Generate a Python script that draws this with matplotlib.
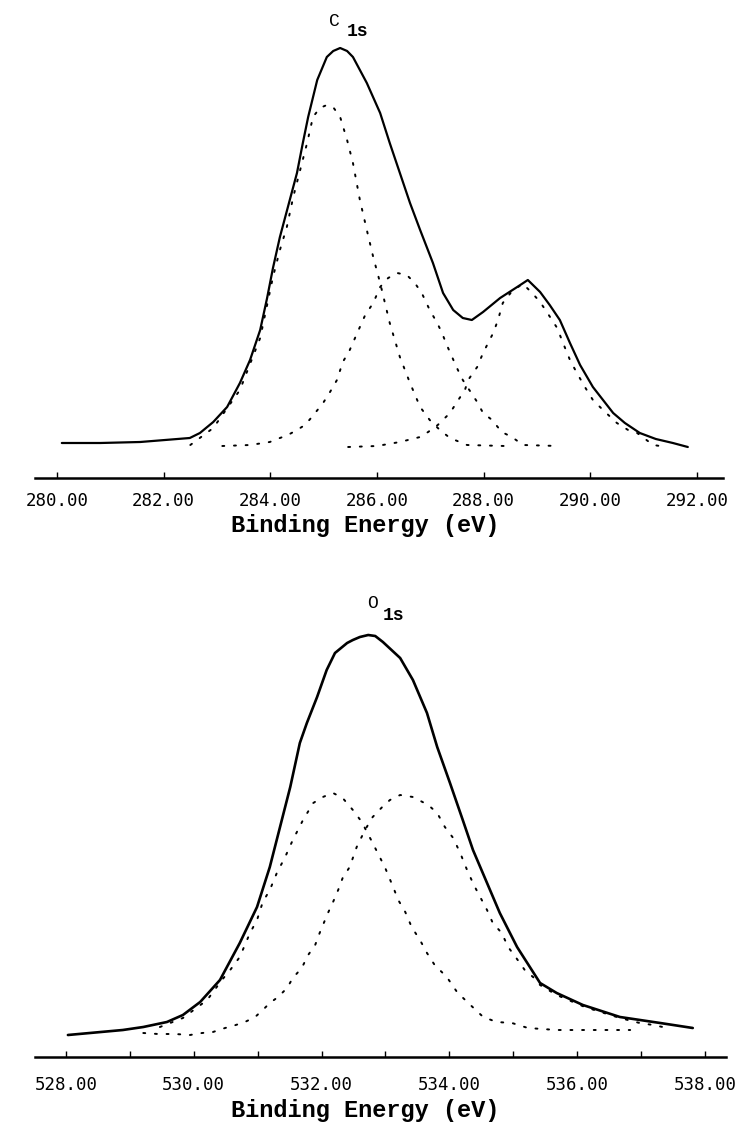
import numpy as np
import matplotlib
matplotlib.use("Agg")
import matplotlib.pyplot as plt

# ---- C1s spectrum (binding energy eV, intensity arb. units) ----
c_env_e = [280.09, 280.81, 281.56, 282.49, 282.68, 282.93, 283.19, 283.43, 283.62, 283.81,
           283.94, 284.05, 284.18, 284.33, 284.50, 284.61, 284.71, 284.88, 285.06, 285.18,
           285.31, 285.44, 285.55, 285.68, 285.81, 286.06, 286.24, 286.43, 286.62, 286.81,
           287.05, 287.24, 287.43, 287.61, 287.78, 287.99, 288.31, 288.63, 288.83, 289.06,
           289.24, 289.43, 289.62, 289.81, 290.05, 290.24, 290.43, 290.65, 290.93, 291.23,
           291.55, 291.83]
c_env_i = [35, 35, 36, 40, 45, 56, 71, 95, 118, 148,
           180, 210, 241, 271, 305, 335, 361, 398, 421, 427,
           430, 427, 421, 408, 395, 365, 335, 305, 275, 248,
           215, 185, 168, 160, 158, 166, 180, 191, 198, 186,
           173, 158, 135, 113, 91, 78, 65, 55, 45, 39,
           35, 31]

c_p1_e = [282.50, 282.93, 283.43, 283.81, 284.05, 284.18, 284.31, 284.43, 284.56, 284.69,
          284.80, 284.93, 285.06, 285.19, 285.31, 285.44, 285.55, 285.68, 285.81, 285.93,
          286.06, 286.24, 286.43, 286.62, 286.81, 286.99, 287.18, 287.37, 287.69, 288.40]
c_p1_i = [33, 50, 88, 140, 201, 228, 251, 281, 308, 335,
          361, 370, 373, 370, 361, 338, 315, 278, 248, 221,
          195, 155, 121, 95, 71, 58, 48, 40, 33, 32]

c_p2_e = [283.10, 283.62, 283.99, 284.18, 284.33, 284.50, 284.65, 284.78, 284.99, 285.12,
          285.25, 285.36, 285.49, 285.63, 285.78, 285.93, 286.06, 286.21, 286.38, 286.56,
          286.71, 286.84, 286.99, 287.13, 287.22, 287.31, 287.50, 287.61, 287.88, 287.99,
          288.16, 288.34, 288.53, 288.74, 289.40]
c_p2_i = [32, 33, 36, 40, 43, 48, 53, 61, 75, 86,
          98, 116, 128, 145, 163, 175, 191, 200, 205, 203,
          195, 185, 168, 155, 145, 133, 110, 98, 76, 65,
          58, 46, 41, 33, 32]

c_p3_e = [285.46, 286.00, 286.43, 286.81, 286.96, 287.14, 287.37, 287.50, 287.65, 287.71,
          287.88, 287.99, 288.18, 288.27, 288.36, 288.55, 288.74, 288.91, 289.06, 289.21,
          289.38, 289.49, 289.62, 289.75, 289.90, 290.05, 290.24, 290.50, 290.71, 290.88,
          291.18, 291.44]
c_p3_i = [31, 32, 36, 41, 46, 53, 65, 76, 88, 98,
          111, 125, 145, 158, 175, 188, 194, 185, 176, 164,
          150, 135, 118, 105, 91, 78, 68, 55, 48, 45,
          33, 31]

# ---- O1s spectrum ----
o_env_e = [528.03, 528.89, 529.21, 529.58, 529.83, 530.10, 530.41, 530.72, 530.99, 531.19,
           531.35, 531.51, 531.66, 531.77, 531.93, 532.08, 532.21, 532.40, 532.49, 532.60,
           532.73, 532.84, 532.96, 533.23, 533.43, 533.65, 533.81, 534.01, 534.21, 534.37,
           534.59, 534.79, 535.06, 535.42, 535.68, 536.09, 536.67, 537.30, 537.81]
o_env_i = [22, 27, 30, 35, 42, 55, 77, 114, 150, 190,
           230, 270, 314, 334, 360, 387, 404, 414, 417, 420,
           422, 421, 415, 399, 377, 344, 310, 274, 237, 207,
           174, 144, 110, 74, 64, 52, 40, 34, 29]

o_p1_e = [529.47, 529.83, 530.21, 530.44, 530.57, 530.72, 530.88, 530.99, 531.08, 531.19,
          531.30, 531.43, 531.55, 531.71, 531.87, 532.02, 532.18, 532.33, 532.49, 532.63,
          532.71, 532.80, 532.91, 532.99, 533.12, 533.20, 533.31, 533.41, 533.54, 533.65,
          533.77, 533.96, 534.12, 534.28, 534.53, 534.74, 534.98, 535.23, 535.68, 536.36,
          536.83]
o_p1_i = [30, 39, 57, 77, 87, 100, 124, 137, 155, 167,
          184, 200, 217, 237, 254, 260, 264, 259, 247, 235,
          225, 214, 200, 190, 170, 157, 145, 130, 117, 104,
          92, 80, 65, 55, 40, 35, 34, 29, 27, 27,
          27]

o_p2_e = [529.21, 529.44, 529.71, 529.94, 530.13, 530.30, 530.49, 530.61, 530.80, 530.96,
          531.08, 531.19, 531.32, 531.46, 531.55, 531.69, 531.79, 531.90, 531.97, 532.10,
          532.18, 532.26, 532.33, 532.44, 532.55, 532.68, 532.80, 532.95, 533.07, 533.23,
          533.43, 533.67, 533.81, 533.93, 534.06, 534.17, 534.29, 534.40, 534.59, 534.68,
          534.82, 534.92, 535.07, 535.18, 535.31, 535.42, 535.68, 536.12, 536.67, 536.98,
          537.19, 537.34]
o_p2_i = [24, 23, 23, 22, 24, 25, 29, 31, 35, 40,
          47, 54, 60, 69, 79, 89, 102, 112, 124, 144,
          155, 167, 179, 190, 210, 227, 240, 250, 257, 262,
          260, 252, 244, 230, 219, 204, 185, 170, 147, 134,
          124, 110, 97, 87, 80, 72, 62, 50, 39, 34,
          32, 30]

c_ticks = [280, 282, 284, 286, 288, 290, 292]
o_ticks = [528, 530, 532, 534, 536, 538]
o_minor = [529, 531, 533, 535, 537]

W, H = 735, 1129
fig = plt.figure(figsize=(W / 100, H / 100), dpi=100)

tick_font = "DejaVu Sans Mono"
lab_font = "Liberation Mono"
dots = (0, (1, 5))


def frac(x0, y0, x1, y1):
    return [x0 / W, 1 - y1 / H, (x1 - x0) / W, (y1 - y0) / H]


def style(ax, pad):
    for s in ["left", "right", "top"]:
        ax.spines[s].set_visible(False)
    ax.spines["bottom"].set_linewidth(1.8)
    ax.set_yticks([])
    ax.tick_params(axis="x", which="both", direction="in", length=4, width=1.0,
                   pad=pad, labelsize=12.5)
    for t in ax.get_xticklabels():
        t.set_fontfamily(tick_font)


solid_kw = dict(color="black", solid_joinstyle="round", solid_capstyle="round")
dot_kw = dict(color="black", lw=1.4, linestyle=dots, dash_capstyle="round")

# top panel: C1s
ax1 = fig.add_axes(frac(35, 30, 723, 478))
ax1.plot(c_env_e, c_env_i, lw=1.6, **solid_kw)
for e, i in [(c_p1_e, c_p1_i), (c_p2_e, c_p2_i), (c_p3_e, c_p3_i)]:
    ax1.plot(e, i, **dot_kw)
ax1.set_xlim(279.587, 292.49)
ax1.set_ylim(0, 448)
ax1.set_xticks(c_ticks)
ax1.set_xticklabels(["%.2f" % t for t in c_ticks])
style(ax1, 10)

# bottom panel: O1s
ax2 = fig.add_axes(frac(35, 590, 726, 1057))
ax2.plot(o_env_e, o_env_i, lw=1.9, **solid_kw)
for e, i in [(o_p1_e, o_p1_i), (o_p2_e, o_p2_i)]:
    ax2.plot(e, i, **dot_kw)
ax2.set_xlim(527.515, 538.33)
ax2.set_ylim(0, 467)
ax2.set_xticks(o_ticks)
ax2.set_xticks(o_minor, minor=True)
ax2.set_xticklabels(["%.2f" % t for t in o_ticks])
style(ax2, 14)


def ftext(x, y, s, **kw):
    fig.text(x / W, 1 - y / H, s, **kw)


ftext(365, 525, "Binding Energy (eV)", ha="center", va="center",
      fontsize=17, fontweight="bold", family=lab_font)
ftext(365, 1110, "Binding Energy (eV)", ha="center", va="center",
      fontsize=17, fontweight="bold", family=lab_font)

ftext(334, 21, "C", ha="center", va="center", fontsize=13, family=lab_font)
ftext(357, 32, "1s", ha="center", va="center", fontsize=13, fontweight="bold", family=lab_font)
ftext(372, 604, "O", ha="center", va="center", fontsize=13, family=lab_font)
ftext(393, 616, "1s", ha="center", va="center", fontsize=13, fontweight="bold", family=lab_font)

fig.savefig("out.png", dpi=100)
